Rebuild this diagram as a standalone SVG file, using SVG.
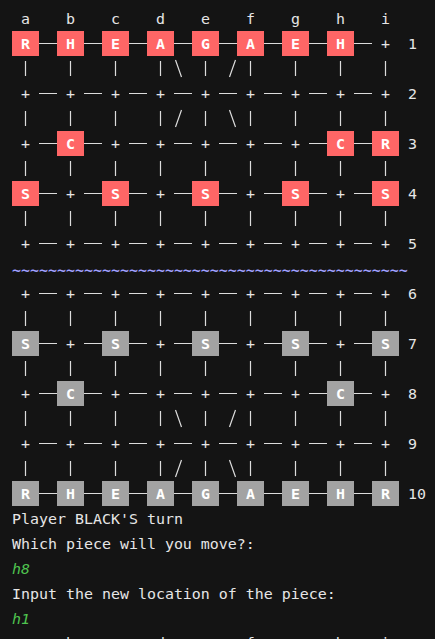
<svg xmlns="http://www.w3.org/2000/svg" width="435" height="639" viewBox="0 0 435 639">
<style>
text{font-family:"DejaVu Sans Mono","Liberation Mono",monospace;font-size:14.95px;fill:#e6e6e6;white-space:pre}
.c{text-anchor:middle}
.pc{text-anchor:middle;font-weight:bold;fill:#ffffff}
.red rect{fill:#ff6666}
.blk rect{fill:#a3a3a3}
.g{fill:#4fc44f;font-style:italic}
.river{fill:#a0a0ff;font-weight:bold}
#connectors path{stroke:#dcdcdc;stroke-width:1.2;fill:none}
</style>
<rect width="435" height="639" fill="#141414"/>

<g id="column-labels">
<text class="c" x="25.5" y="24">a</text><text class="c" x="70.5" y="24">b</text><text class="c" x="115.5" y="24">c</text><text class="c" x="160.5" y="24">d</text><text class="c" x="205.5" y="24">e</text><text class="c" x="250.5" y="24">f</text><text class="c" x="295.5" y="24">g</text><text class="c" x="340.5" y="24">h</text><text class="c" x="385.5" y="24">i</text>
</g>
<g id="row-labels">
<text x="408" y="49">1</text>
<text x="408" y="99">2</text>
<text x="408" y="149">3</text>
<text x="408" y="199">4</text>
<text x="408" y="249">5</text>
<text x="408" y="299">6</text>
<text x="408" y="349">7</text>
<text x="408" y="399">8</text>
<text x="408" y="449">9</text>
<text x="408" y="499">10</text>
</g>

<g id="connectors">
<path d="M39 43.5h18m27 0h18m27 0h18m27 0h18m27 0h18m27 0h18m27 0h18m27 0h18
M39 93.5h18m27 0h18m27 0h18m27 0h18m27 0h18m27 0h18m27 0h18m27 0h18
M39 143.5h18m27 0h18m27 0h18m27 0h18m27 0h18m27 0h18m27 0h18m27 0h18
M39 193.5h18m27 0h18m27 0h18m27 0h18m27 0h18m27 0h18m27 0h18m27 0h18
M39 243.5h18m27 0h18m27 0h18m27 0h18m27 0h18m27 0h18m27 0h18m27 0h18
M39 293.5h18m27 0h18m27 0h18m27 0h18m27 0h18m27 0h18m27 0h18m27 0h18
M39 343.5h18m27 0h18m27 0h18m27 0h18m27 0h18m27 0h18m27 0h18m27 0h18
M39 393.5h18m27 0h18m27 0h18m27 0h18m27 0h18m27 0h18m27 0h18m27 0h18
M39 443.5h18m27 0h18m27 0h18m27 0h18m27 0h18m27 0h18m27 0h18m27 0h18
M39 493.5h18m27 0h18m27 0h18m27 0h18m27 0h18m27 0h18m27 0h18m27 0h18"/>
<path stroke-width="1.4" d="M25.5 61v15m45 -15v15m45 -15v15m45 -15v15m45 -15v15m45 -15v15m45 -15v15m45 -15v15m45 -15v15
M25.5 111v15m45 -15v15m45 -15v15m45 -15v15m45 -15v15m45 -15v15m45 -15v15m45 -15v15m45 -15v15
M25.5 161v15m45 -15v15m45 -15v15m45 -15v15m45 -15v15m45 -15v15m45 -15v15m45 -15v15m45 -15v15
M25.5 211v15m45 -15v15m45 -15v15m45 -15v15m45 -15v15m45 -15v15m45 -15v15m45 -15v15m45 -15v15
M25.5 311v15m45 -15v15m45 -15v15m45 -15v15m45 -15v15m45 -15v15m45 -15v15m45 -15v15m45 -15v15
M25.5 361v15m45 -15v15m45 -15v15m45 -15v15m45 -15v15m45 -15v15m45 -15v15m45 -15v15m45 -15v15
M25.5 411v15m45 -15v15m45 -15v15m45 -15v15m45 -15v15m45 -15v15m45 -15v15m45 -15v15m45 -15v15
M25.5 461v15m45 -15v15m45 -15v15m45 -15v15m45 -15v15m45 -15v15m45 -15v15m45 -15v15m45 -15v15"/>
<path d="M175.5 60L181.5 77M235.5 60L229.5 77
M181.5 110L175.5 127M229.5 110L235.5 127
M175.5 410L181.5 427M235.5 410L229.5 427
M181.5 460L175.5 477M229.5 460L235.5 477"/>
</g>

<g id="intersections">
<text class="c" x="385.5" y="49">+</text>

<text class="c" x="25.5" y="99">+</text><text class="c" x="70.5" y="99">+</text><text class="c" x="115.5" y="99">+</text><text class="c" x="160.5" y="99">+</text><text class="c" x="205.5" y="99">+</text><text class="c" x="250.5" y="99">+</text><text class="c" x="295.5" y="99">+</text><text class="c" x="340.5" y="99">+</text><text class="c" x="385.5" y="99">+</text>

<text class="c" x="25.5" y="149">+</text><text class="c" x="115.5" y="149">+</text><text class="c" x="160.5" y="149">+</text><text class="c" x="205.5" y="149">+</text><text class="c" x="250.5" y="149">+</text><text class="c" x="295.5" y="149">+</text>

<text class="c" x="70.5" y="199">+</text><text class="c" x="160.5" y="199">+</text><text class="c" x="250.5" y="199">+</text><text class="c" x="340.5" y="199">+</text>

<text class="c" x="25.5" y="249">+</text><text class="c" x="70.5" y="249">+</text><text class="c" x="115.5" y="249">+</text><text class="c" x="160.5" y="249">+</text><text class="c" x="205.5" y="249">+</text><text class="c" x="250.5" y="249">+</text><text class="c" x="295.5" y="249">+</text><text class="c" x="340.5" y="249">+</text><text class="c" x="385.5" y="249">+</text>

<text class="c" x="25.5" y="299">+</text><text class="c" x="70.5" y="299">+</text><text class="c" x="115.5" y="299">+</text><text class="c" x="160.5" y="299">+</text><text class="c" x="205.5" y="299">+</text><text class="c" x="250.5" y="299">+</text><text class="c" x="295.5" y="299">+</text><text class="c" x="340.5" y="299">+</text><text class="c" x="385.5" y="299">+</text>

<text class="c" x="70.5" y="349">+</text><text class="c" x="160.5" y="349">+</text><text class="c" x="250.5" y="349">+</text><text class="c" x="340.5" y="349">+</text>

<text class="c" x="25.5" y="399">+</text><text class="c" x="115.5" y="399">+</text><text class="c" x="160.5" y="399">+</text><text class="c" x="205.5" y="399">+</text><text class="c" x="250.5" y="399">+</text><text class="c" x="295.5" y="399">+</text><text class="c" x="385.5" y="399">+</text>

<text class="c" x="25.5" y="449">+</text><text class="c" x="70.5" y="449">+</text><text class="c" x="115.5" y="449">+</text><text class="c" x="160.5" y="449">+</text><text class="c" x="205.5" y="449">+</text><text class="c" x="250.5" y="449">+</text><text class="c" x="295.5" y="449">+</text><text class="c" x="340.5" y="449">+</text><text class="c" x="385.5" y="449">+</text>
</g>

<g id="river">
<text class="river" x="12" y="274.5">~~~~~~~~~~~~~~~~~~~~~~~~~~~~~~~~~~~~~~~~~~~~</text>
</g>

<g id="red-pieces" class="red">
<g id="red-R-a1"><rect x="12" y="31" width="27" height="25"/><text class="pc" x="25.5" y="49">R</text></g>
<g id="red-H-b1"><rect x="57" y="31" width="27" height="25"/><text class="pc" x="70.5" y="49">H</text></g>
<g id="red-E-c1"><rect x="102" y="31" width="27" height="25"/><text class="pc" x="115.5" y="49">E</text></g>
<g id="red-A-d1"><rect x="147" y="31" width="27" height="25"/><text class="pc" x="160.5" y="49">A</text></g>
<g id="red-G-e1"><rect x="192" y="31" width="27" height="25"/><text class="pc" x="205.5" y="49">G</text></g>
<g id="red-A-f1"><rect x="237" y="31" width="27" height="25"/><text class="pc" x="250.5" y="49">A</text></g>
<g id="red-E-g1"><rect x="282" y="31" width="27" height="25"/><text class="pc" x="295.5" y="49">E</text></g>
<g id="red-H-h1"><rect x="327" y="31" width="27" height="25"/><text class="pc" x="340.5" y="49">H</text></g>
<g id="red-C-b3"><rect x="57" y="131" width="27" height="25"/><text class="pc" x="70.5" y="149">C</text></g>
<g id="red-C-h3"><rect x="327" y="131" width="27" height="25"/><text class="pc" x="340.5" y="149">C</text></g>
<g id="red-R-i3"><rect x="372" y="131" width="27" height="25"/><text class="pc" x="385.5" y="149">R</text></g>
<g id="red-S-a4"><rect x="12" y="181" width="27" height="25"/><text class="pc" x="25.5" y="199">S</text></g>
<g id="red-S-c4"><rect x="102" y="181" width="27" height="25"/><text class="pc" x="115.5" y="199">S</text></g>
<g id="red-S-e4"><rect x="192" y="181" width="27" height="25"/><text class="pc" x="205.5" y="199">S</text></g>
<g id="red-S-g4"><rect x="282" y="181" width="27" height="25"/><text class="pc" x="295.5" y="199">S</text></g>
<g id="red-S-i4"><rect x="372" y="181" width="27" height="25"/><text class="pc" x="385.5" y="199">S</text></g>
</g>

<g id="black-pieces" class="blk">
<g id="blk-S-a7"><rect x="12" y="331" width="27" height="25"/><text class="pc" x="25.5" y="349">S</text></g>
<g id="blk-S-c7"><rect x="102" y="331" width="27" height="25"/><text class="pc" x="115.5" y="349">S</text></g>
<g id="blk-S-e7"><rect x="192" y="331" width="27" height="25"/><text class="pc" x="205.5" y="349">S</text></g>
<g id="blk-S-g7"><rect x="282" y="331" width="27" height="25"/><text class="pc" x="295.5" y="349">S</text></g>
<g id="blk-S-i7"><rect x="372" y="331" width="27" height="25"/><text class="pc" x="385.5" y="349">S</text></g>
<g id="blk-C-b8"><rect x="57" y="381" width="27" height="25"/><text class="pc" x="70.5" y="399">C</text></g>
<g id="blk-C-h8"><rect x="327" y="381" width="27" height="25"/><text class="pc" x="340.5" y="399">C</text></g>
<g id="blk-R-a10"><rect x="12" y="481" width="27" height="25"/><text class="pc" x="25.5" y="499">R</text></g>
<g id="blk-H-b10"><rect x="57" y="481" width="27" height="25"/><text class="pc" x="70.5" y="499">H</text></g>
<g id="blk-E-c10"><rect x="102" y="481" width="27" height="25"/><text class="pc" x="115.5" y="499">E</text></g>
<g id="blk-A-d10"><rect x="147" y="481" width="27" height="25"/><text class="pc" x="160.5" y="499">A</text></g>
<g id="blk-G-e10"><rect x="192" y="481" width="27" height="25"/><text class="pc" x="205.5" y="499">G</text></g>
<g id="blk-A-f10"><rect x="237" y="481" width="27" height="25"/><text class="pc" x="250.5" y="499">A</text></g>
<g id="blk-E-g10"><rect x="282" y="481" width="27" height="25"/><text class="pc" x="295.5" y="499">E</text></g>
<g id="blk-H-h10"><rect x="327" y="481" width="27" height="25"/><text class="pc" x="340.5" y="499">H</text></g>
<g id="blk-R-i10"><rect x="372" y="481" width="27" height="25"/><text class="pc" x="385.5" y="499">R</text></g>
</g>

<g id="console">
<text x="12" y="524">Player BLACK'S turn</text>
<text x="12" y="549">Which piece will you move?:</text>
<text class="g" x="12" y="574">h8</text>
<text x="12" y="599">Input the new location of the piece:</text>
<text class="g" x="12" y="624">h1</text>
<text x="12" y="648"> a    b    c    d    e    f    g    h    i</text>
</g>
</svg>
